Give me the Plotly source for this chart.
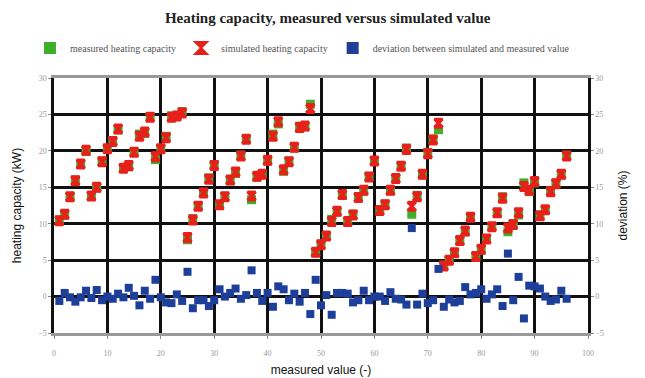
import plotly.graph_objects as go

x_index = list(range(1, 97))

simulated = [10.4, 11.3, 13.7, 15.9, 18.2, 20.1, 13.8, 15.0, 18.5, 20.3,
             21.3, 23.0, 17.6, 18.0, 19.8, 22.0, 22.6, 24.6, 19.2, 20.3,
             21.8, 24.6, 24.8, 25.2, 8.1, 10.5, 12.4, 14.2, 16.1, 18.0,
             12.6, 13.7, 16.0, 17.1, 19.3, 21.6, 13.8, 16.5, 16.8, 18.7,
             22.0, 24.0, 17.4, 18.5, 20.5, 23.2, 23.4, 25.8, 6.1, 7.1,
             8.3, 10.3, 11.7, 14.0, 10.3, 11.2, 13.6, 14.6, 16.4, 18.6,
             11.8, 12.6, 14.6, 16.2, 17.9, 20.2, 12.4, 13.7, 16.8, 19.6,
             21.5, 23.8, 4.2, 5.0, 6.0, 7.7, 9.0, 10.9, 5.5, 6.5,
             7.9, 9.6, 11.5, 13.5, 9.4, 9.9, 11.5, 15.1, 14.6, 15.8,
             11.1, 11.9, 14.4, 15.5, 16.8, 19.3]

measured = [10.5, 11.2, 13.7, 16.0, 18.2, 19.9, 13.8, 14.9, 18.6, 20.3,
            21.4, 22.9, 17.6, 17.8, 19.8, 22.3, 22.4, 24.7, 18.8, 20.3,
            22.0, 24.8, 24.7, 25.4, 7.8, 10.7, 12.5, 14.3, 16.3, 18.1,
            12.5, 13.7, 15.9, 16.9, 19.4, 21.6, 13.3, 16.4, 16.9, 18.6,
            22.3, 23.7, 17.2, 18.6, 20.4, 23.4, 23.3, 26.4, 6.0, 7.2,
            8.3, 10.6, 11.6, 13.9, 10.3, 11.3, 13.7, 14.5, 16.5, 18.6,
            11.8, 12.7, 14.5, 16.2, 18.0, 20.4, 11.3, 13.9, 16.7, 19.8,
            21.6, 22.9, 4.3, 5.0, 6.0, 7.7, 8.9, 10.9, 5.5, 6.4,
            7.9, 9.6, 11.4, 13.7, 8.9, 10.0, 11.2, 15.6, 14.4, 15.6,
            11.0, 11.9, 14.5, 15.6, 16.7, 19.4]

deviation = [-0.6, 0.5, -0.1, -0.7, -0.1, 0.8, -0.2, 0.9, -0.5, 0.0,
             -0.3, 0.4, -0.1, 1.2, 0.1, -1.2, 0.8, -0.3, 2.3, -0.1,
             -0.8, -0.9, 0.3, -0.6, 3.4, -1.6, -0.5, -0.5, -1.3, -0.5,
             1.0, 0.0, 0.5, 1.1, -0.3, 0.2, 3.6, 0.5, -0.6, 0.5,
             -1.4, 1.4, 1.0, -0.5, 0.4, -0.7, 0.5, -2.4, 2.3, -1.2,
             0.2, -2.5, 0.5, 0.5, 0.4, -0.8, -0.5, 0.8, -0.5, 0.0,
             0.0, -0.6, 0.6, -0.3, -0.4, -1.1, 9.4, -1.1, 0.4, -0.9,
             -0.5, 3.8, -1.4, -0.4, -0.8, -0.6, 1.3, 0.3, 0.5, 1.0,
             -0.3, 0.3, 1.0, -1.3, 5.9, -0.5, 2.7, -3.0, 1.5, 1.4,
             1.1, 0.0, -0.6, -0.4, 0.8, -0.3]

x_ticks = [0, 10, 20, 30, 40, 50, 60, 70, 80, 90, 100]
y_ticks = [-5, 0, 5, 10, 15, 20, 25, 30]

GREEN = "#3fae2a"
RED = "#e8201c"
BLUE = "#1d3f9a"

fig = go.Figure()
fig.add_trace(go.Scatter(
    x=x_index, y=measured, mode="markers", name="measured heating capacity",
    marker=dict(symbol="square", size=9, color=GREEN, line=dict(width=0))))
fig.add_trace(go.Scatter(
    x=x_index, y=simulated, mode="markers", name="simulated heating capacity",
    marker=dict(symbol="hourglass", size=8, color=RED, line=dict(width=3, color=RED))))
fig.add_trace(go.Scatter(
    x=x_index, y=deviation, mode="markers", name="deviation between simulated and measured value",
    yaxis="y2",
    marker=dict(symbol="square", size=8, color=BLUE, line=dict(width=0))))

tickfont = dict(family="Liberation Serif", size=8, color="#999999")

fig.update_layout(
    width=645, height=378,
    margin=dict(l=54, r=57, t=78, b=45),
    paper_bgcolor="white", plot_bgcolor="white",
    title=dict(text="<b>Heating capacity, measured versus simulated value</b>",
               x=0.508, xanchor="center", y=0.952, yanchor="middle",
               font=dict(family="Liberation Serif", size=15, color="#222222")),
    showlegend=True,
    legend=dict(orientation="h", x=-0.045, xanchor="left", y=1.118, yanchor="middle",
                font=dict(family="Liberation Serif", size=10, color="#555555"),
                itemwidth=30, tracegroupgap=0, itemsizing="constant",
                bgcolor="rgba(0,0,0,0)"),
    xaxis=dict(range=[0, 100], tickvals=x_ticks, ticks="outside", ticklen=3,
               tickcolor="#888888", tickfont=tickfont, ticklabelstandoff=7,
               showgrid=True, gridcolor="#111111", gridwidth=2.5,
               showline=True, linecolor="#999999", linewidth=3, mirror=True,
               zeroline=False, automargin=False,
               title=dict(text="measured value (-)", standoff=10,
                          font=dict(family="Liberation Sans", size=12, color="#111111"))),
    yaxis=dict(range=[-5, 30], tickvals=y_ticks, ticks="outside", ticklen=3,
               tickcolor="#888888", tickfont=tickfont,
               showgrid=True, gridcolor="#111111", gridwidth=2.5,
               showline=True, linecolor="#111111", linewidth=2.5,
               zeroline=False, automargin=False,
               title=dict(text="heating capacity (kW)", standoff=14,
                          font=dict(family="Liberation Sans", size=12, color="#111111"))),
    yaxis2=dict(range=[-5, 30], tickvals=y_ticks, overlaying="y", side="right",
                ticks="outside", ticklen=3, tickcolor="#888888", tickfont=tickfont,
                showgrid=False, showline=True, linecolor="#111111", linewidth=2.5,
                zeroline=False, automargin=False,
                title=dict(text="deviation (%)", standoff=16,
                           font=dict(family="Liberation Sans", size=12, color="#111111"))),
)

fig.write_html("out.html")
